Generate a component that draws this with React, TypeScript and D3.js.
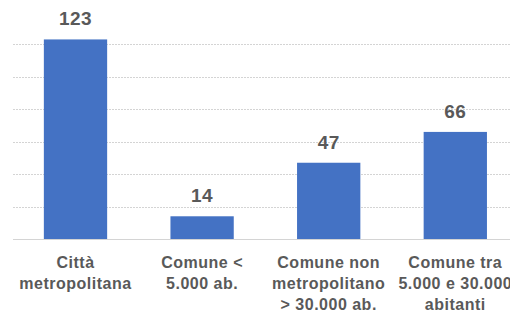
import React from "react";
import * as d3 from "d3";

const categories: string[][] = [
  ["Città", "metropolitana"],
  ["Comune <", "5.000 ab."],
  ["Comune non", "metropolitano", "> 30.000 ab."],
  ["Comune tra", "5.000 e 30.000", "abitanti"],
];
const values: number[] = [123, 14, 47, 66];
const gridTicks: number[] = [0, 20, 40, 60, 80, 100, 120];

const W = 510;
const H = 312;

export default function App() {
  const x = d3
    .scaleBand<number>()
    .domain(d3.range(values.length))
    .range([12.2, 518.6])
    .paddingInner(0.5)
    .paddingOuter(0.25);
  const y = d3.scaleLinear().domain([0, 120]).range([239, 44.3]);
  const font = "'Liberation Sans', Arial, sans-serif";
  return (
    <svg
      width={W}
      height={H}
      style={{ position: "absolute", left: 0, top: 0, background: "#fff" }}
    >
      {gridTicks.map((t) => (
        <line
          key={t}
          x1={13}
          x2={W}
          y1={Math.round(y(t)) + 0.5}
          y2={Math.round(y(t)) + 0.5}
          stroke="#d4d4d4"
          strokeWidth={1}
          strokeDasharray={t === 0 ? undefined : "2,1"}
        />
      ))}
      {values.map((v, i) => (
        <g key={i}>
          <rect
            x={x(i)}
            y={y(v)}
            width={x.bandwidth()}
            height={y(0) - y(v)}
            fill="#4472C4"
          />
          <text
            x={(x(i) as number) + x.bandwidth() / 2}
            y={y(v) - 14}
            textAnchor="middle"
            fontFamily={font}
            fontWeight="bold"
            fontSize={19}
            letterSpacing={0.5}
            fill="#595959"
          >
            {v}
          </text>
          {categories[i].map((line, j) => (
            <text
              key={j}
              x={(x(i) as number) + x.bandwidth() / 2}
              y={267.5 + j * 21}
              textAnchor="middle"
              fontFamily={font}
              fontWeight="bold"
              fontSize={16}
              letterSpacing={0.5}
              fill="#595959"
            >
              {line}
            </text>
          ))}
        </g>
      ))}
    </svg>
  );
}
